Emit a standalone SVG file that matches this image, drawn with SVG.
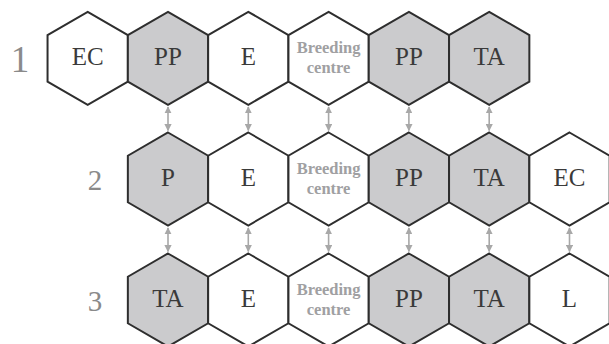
<svg xmlns="http://www.w3.org/2000/svg" width="609" height="344" viewBox="0 0 609 344">
<style>
.hex{stroke:#2e2e2e;stroke-width:2;stroke-linejoin:miter}
.w{fill:#ffffff}
.g{fill:#cbcbcd}
.t{font-family:"Liberation Serif","DejaVu Serif",serif;font-size:25px;fill:#3a3a3a;text-anchor:middle}
.b{font-family:"Liberation Serif","DejaVu Serif",serif;font-size:16.5px;font-weight:bold;fill:#a0a0a2;text-anchor:middle}
.n{font-family:"Liberation Serif","DejaVu Serif",serif;font-size:29px;fill:#8a8a8a;text-anchor:middle}
.a{stroke:#a8a8a8;stroke-width:1.6;fill:none;marker-start:url(#ah);marker-end:url(#ah)}
</style>
<defs>
<polygon id="hx" points="0,-46.5 40.15,-23.25 40.15,23.25 0,46.5 -40.15,23.25 -40.15,-23.25"/>
<marker id="ah" viewBox="0 0 10 10" refX="9" refY="5" markerWidth="4.5" markerHeight="4.5" orient="auto-start-reverse" markerUnits="strokeWidth">
<path d="M0,0 L10,5 L0,10 z" fill="#a8a8a8"/>
</marker>
</defs>
<g id="row-labels">
<text class="n" x="20" y="71.5" style="font-size:37px">1</text>
<text class="n" x="95" y="189.5">2</text>
<text class="n" x="95" y="310.5">3</text>
</g>
<g id="connectors">
<line class="a" x1="168" y1="107" x2="168" y2="130.5"/>
<line class="a" x1="248.3" y1="107" x2="248.3" y2="130.5"/>
<line class="a" x1="328.6" y1="107" x2="328.6" y2="130.5"/>
<line class="a" x1="408.9" y1="107" x2="408.9" y2="130.5"/>
<line class="a" x1="489.2" y1="107" x2="489.2" y2="130.5"/>
<line class="a" x1="168" y1="228" x2="168" y2="251.5"/>
<line class="a" x1="248.3" y1="228" x2="248.3" y2="251.5"/>
<line class="a" x1="328.6" y1="228" x2="328.6" y2="251.5"/>
<line class="a" x1="408.9" y1="228" x2="408.9" y2="251.5"/>
<line class="a" x1="489.2" y1="228" x2="489.2" y2="251.5"/>
<line class="a" x1="569.5" y1="228" x2="569.5" y2="251.5"/>
</g>
<g id="r1-ec" transform="translate(87.7,58.3)"><use href="#hx" class="hex w"/><text class="t" y="7">EC</text></g>
<g id="r1-pp" transform="translate(168,58.3)"><use href="#hx" class="hex g"/><text class="t" y="7">PP</text></g>
<g id="r1-e" transform="translate(248.3,58.3)"><use href="#hx" class="hex w"/><text class="t" y="7">E</text></g>
<g id="r1-bc" transform="translate(328.6,58.3)"><use href="#hx" class="hex w"/><text class="b" y="-5">Breeding</text><text class="b" y="14.5">centre</text></g>
<g id="r1-pp2" transform="translate(408.9,58.3)"><use href="#hx" class="hex g"/><text class="t" y="7">PP</text></g>
<g id="r1-ta" transform="translate(489.2,58.3)"><use href="#hx" class="hex g"/><text class="t" y="7">TA</text></g>

<g id="r2-p" transform="translate(168,179)"><use href="#hx" class="hex g"/><text class="t" y="7">P</text></g>
<g id="r2-e" transform="translate(248.3,179)"><use href="#hx" class="hex w"/><text class="t" y="7">E</text></g>
<g id="r2-bc" transform="translate(328.6,179)"><use href="#hx" class="hex w"/><text class="b" y="-5">Breeding</text><text class="b" y="14.5">centre</text></g>
<g id="r2-pp" transform="translate(408.9,179)"><use href="#hx" class="hex g"/><text class="t" y="7">PP</text></g>
<g id="r2-ta" transform="translate(489.2,179)"><use href="#hx" class="hex g"/><text class="t" y="7">TA</text></g>
<g id="r2-ec" transform="translate(569.5,179)"><use href="#hx" class="hex w"/><text class="t" y="7">EC</text></g>

<g id="r3-ta" transform="translate(168,300)"><use href="#hx" class="hex g"/><text class="t" y="7">TA</text></g>
<g id="r3-e" transform="translate(248.3,300)"><use href="#hx" class="hex w"/><text class="t" y="7">E</text></g>
<g id="r3-bc" transform="translate(328.6,300)"><use href="#hx" class="hex w"/><text class="b" y="-5">Breeding</text><text class="b" y="14.5">centre</text></g>
<g id="r3-pp" transform="translate(408.9,300)"><use href="#hx" class="hex g"/><text class="t" y="7">PP</text></g>
<g id="r3-ta2" transform="translate(489.2,300)"><use href="#hx" class="hex g"/><text class="t" y="7">TA</text></g>
<g id="r3-l" transform="translate(569.5,300)"><use href="#hx" class="hex w"/><text class="t" y="7">L</text></g>
</svg>
